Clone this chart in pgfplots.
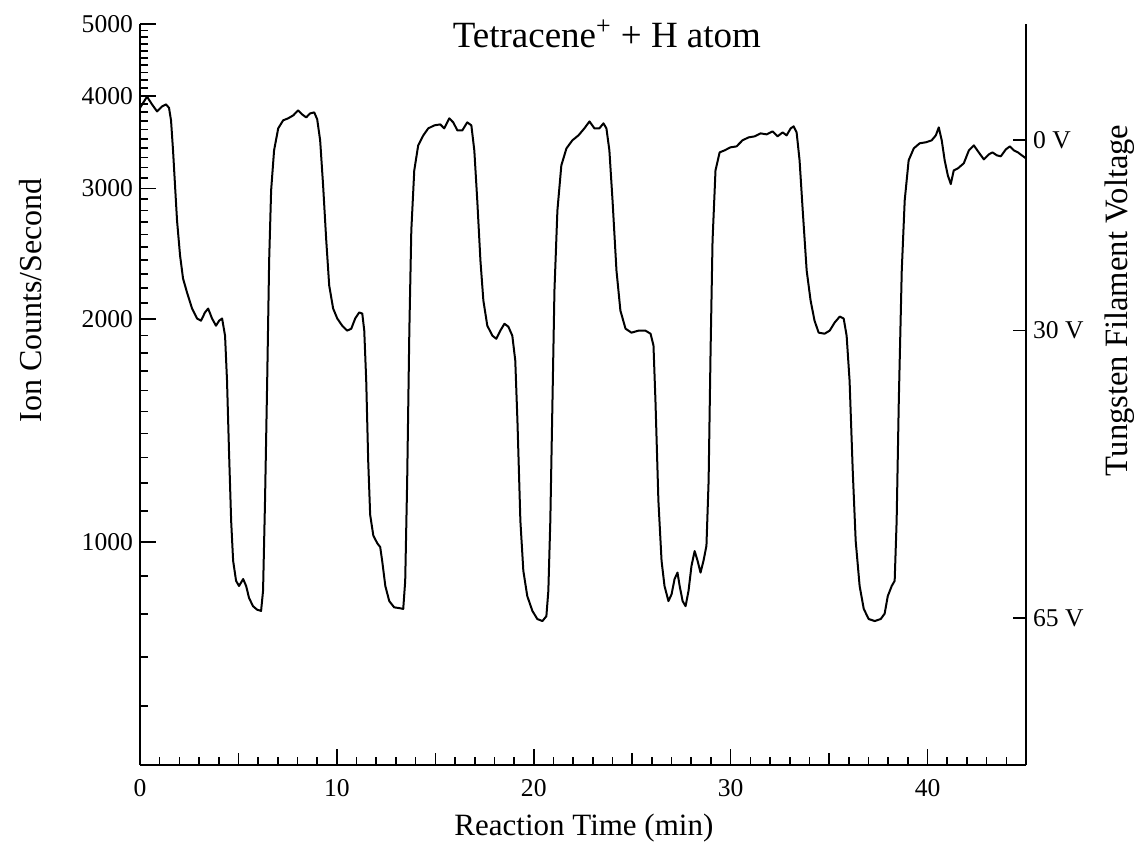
\documentclass[border=0pt]{standalone}
\usepackage{fontspec}
\setmainfont{Liberation Serif}
\usepackage{pgfplots}
\pgfplotsset{compat=1.18}
\begin{document}
\begin{tikzpicture}
\begin{axis}[
  scale only axis, width=443pt, height=370.5pt,
  xmin=0, xmax=45, ymode=log, ymin=500, ymax=5000,
  axis x line*=bottom, axis y line*=left,
  axis line style={line width=1pt,-},
  tick align=inside,
  xtick={0,10,20,30,40}, xticklabels={0,10,20,30,40},
  minor xtick={1,2,3,4,6,7,8,9,11,12,13,14,16,17,18,19,21,22,23,24,26,27,28,29,31,32,33,34,36,37,38,39,41,42,43,44},
  extra x ticks={5,15,25,35}, extra x tick labels={},
  extra x tick style={major tick length=6pt},
  ytick={1000,2000,3000,4000,5000}, yticklabels={1000,2000,3000,4000,5000},
  minor ytick={600,700,800,900,1100,1200,1300,1400,1500,1600,1700,1800,1900,2100,2200,2300,2400,2500,2600,2700,2800,2900,3100,3200,3300,3400,3500,3600,3700,3800,3900,4100,4200,4300,4400,4500,4600,4700,4800,4900},
  major tick length=8pt, minor tick length=4pt,
  every tick/.style={black, line width=0.8pt},
  tick label style={font=\fontsize{12.8}{15}\selectfont},
  xticklabel style={yshift=-3.5pt},
  every axis title shift=0pt,
  title={Tetracene\textsuperscript{+} + H atom},
  title style={at={(axis description cs:0.527,0.9865)}, anchor=center, font=\fontsize{18.5}{20}\selectfont},
  xlabel={Reaction Time (min)},
  xlabel style={at={(axis description cs:0.501,-0.085)}, anchor=center, font=\fontsize{15.5}{18}\selectfont},
  ylabel={Ion Counts/Second},
  ylabel style={at={(axis description cs:-0.124,0.627)}, anchor=center, font=\fontsize{16}{18}\selectfont},
]
\addplot[black, line width=1pt, line join=round] table {
t v
0 3853
0.356 3990
0.61 3895
0.864 3811
1.118 3870
1.322 3895
1.474 3853
1.576 3706
1.678 3376
1.779 3028
1.881 2715
2.034 2436
2.186 2267
2.39 2170
2.644 2065
2.898 2002
3.1 1989
3.3 2040
3.46 2065
3.66 2002
3.86 1958
4.02 1989
4.17 2002
4.32 1898
4.42 1650
4.52 1327
4.63 1067
4.73 943
4.88 886
5.03 872
5.24 891
5.39 872
5.54 840
5.74 819
5.95 810
6.15 807
6.25 859
6.35 1136
6.46 1650
6.56 2398
6.66 2981
6.81 3376
7.02 3615
7.27 3706
7.52 3729
7.78 3763
8.03 3823
8.24 3775
8.44 3740
8.64 3787
8.85 3799
9.0 3718
9.15 3483
9.3 3028
9.46 2551
9.61 2218
9.81 2065
10.02 2002
10.27 1958
10.52 1928
10.73 1940
10.93 2002
11.13 2040
11.29 2033
11.39 1928
11.49 1650
11.59 1287
11.69 1088
11.85 1020
12.05 996
12.2 984
12.3 943
12.46 872
12.66 832
12.91 816
13.17 814
13.37 812
13.47 886
13.57 1209
13.68 1928
13.78 2632
13.93 3172
14.13 3429
14.39 3537
14.64 3615
14.95 3649
15.25 3660
15.45 3615
15.71 3729
15.91 3683
16.12 3592
16.37 3592
16.62 3683
16.83 3649
16.98 3376
17.13 2890
17.29 2398
17.44 2117
17.64 1958
17.9 1898
18.1 1880
18.3 1928
18.51 1970
18.71 1952
18.91 1898
19.06 1757
19.17 1457
19.32 1067
19.47 914
19.67 845
19.93 807
20.18 787
20.44 782
20.64 794
20.74 859
20.84 1067
20.95 1551
21.05 2184
21.2 2801
21.4 3222
21.66 3397
21.96 3483
22.27 3537
22.57 3615
22.83 3694
23.08 3615
23.33 3615
23.54 3672
23.69 3615
23.84 3376
24.0 2890
24.2 2324
24.4 2052
24.66 1940
24.96 1916
25.32 1928
25.67 1928
25.93 1910
26.08 1841
26.18 1551
26.33 1136
26.49 943
26.64 872
26.84 832
27.0 850
27.15 891
27.3 909
27.41 872
27.56 832
27.71 819
27.86 859
28.01 928
28.17 972
28.32 943
28.47 909
28.62 943
28.77 988
28.88 1209
28.98 1812
29.08 2551
29.23 3172
29.44 3355
29.69 3376
29.99 3408
30.3 3418
30.6 3483
30.91 3515
31.22 3526
31.52 3559
31.83 3548
32.13 3581
32.38 3526
32.64 3570
32.84 3537
33.05 3615
33.2 3638
33.35 3570
33.5 3273
33.66 2801
33.86 2324
34.06 2117
34.26 1989
34.47 1916
34.77 1910
35.03 1928
35.28 1977
35.54 2014
35.74 2002
35.89 1898
36.04 1650
36.2 1248
36.35 1003
36.55 872
36.76 812
37.01 787
37.32 782
37.62 787
37.82 800
37.98 845
38.18 872
38.33 886
38.43 1067
38.54 1551
38.69 2324
38.84 2890
39.04 3273
39.3 3397
39.6 3451
39.91 3462
40.21 3483
40.42 3537
40.57 3626
40.72 3483
40.87 3273
41.03 3123
41.18 3040
41.33 3172
41.54 3192
41.84 3243
42.1 3376
42.35 3429
42.6 3355
42.86 3283
43.11 3334
43.3 3355
43.52 3324
43.72 3314
43.98 3387
44.18 3418
44.38 3376
44.59 3355
44.79 3324
45 3293
};
\end{axis}
\begin{axis}[
  scale only axis, width=443pt, height=370.5pt,
  xmin=0, xmax=45, ymode=log, ymin=500, ymax=5000,
  hide x axis, axis y line*=right,
  axis line style={line width=1pt,-},
  tick align=inside,
  ytick={3486,1928,789}, yticklabels={0 V,30 V,65 V}, minor ytick={},
  major tick length=6.5pt,
  every tick/.style={black, line width=0.8pt},
  tick label style={font=\fontsize{12.8}{15}\selectfont},
  ylabel={Tungsten Filament Voltage},
  ylabel style={at={(axis description cs:1.106,0.627)}, anchor=center, font=\fontsize{16.3}{18}\selectfont},
]
\end{axis}
\pgfresetboundingbox
\useasboundingbox (-70pt,-39.5pt) rectangle (498pt,382.5pt);
\end{tikzpicture}
\end{document}
